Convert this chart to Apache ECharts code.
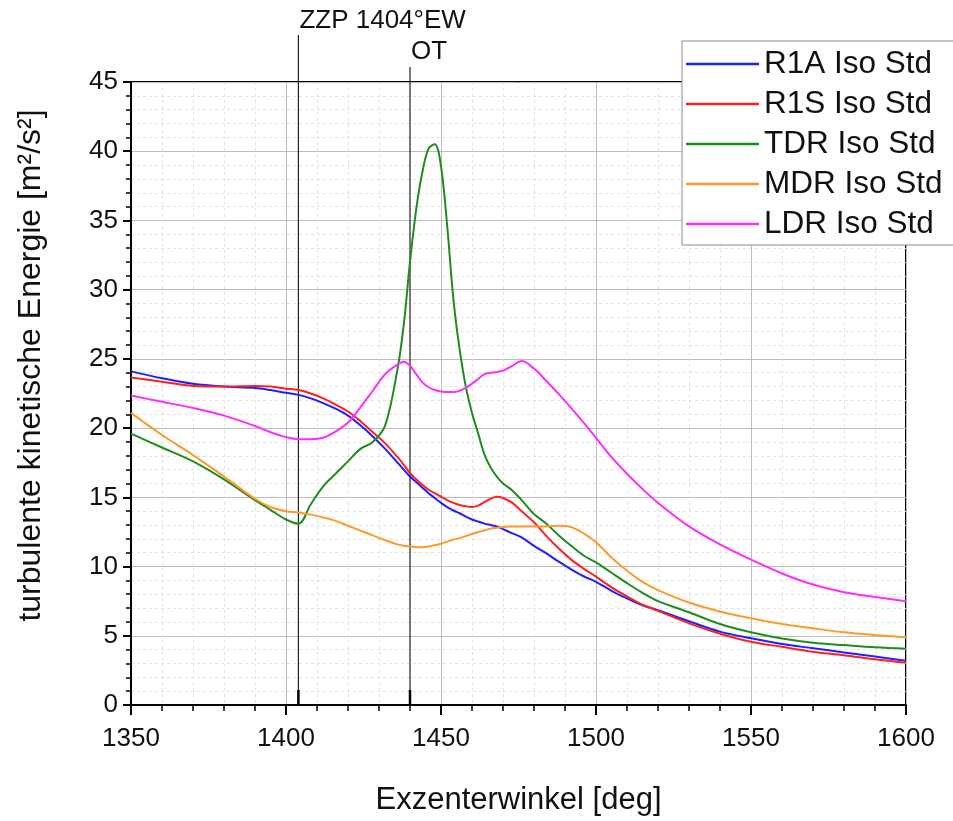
<!DOCTYPE html>
<html>
<head>
<meta charset="utf-8">
<script src="https://cdn.jsdelivr.net/npm/echarts@6/dist/echarts.min.js"></script>
<style>
html,body{margin:0;padding:0;background:#fff;}
#chart{width:953px;height:821px;}
</style>
</head>
<body>
<div id="chart"></div>
<script>
const angles = [1350,1360,1370,1380,1390,1395,1400,1404,1408,1412,1416,1420,1424,1428,1432,1436,1438,1440,1442,1444,1446,1448,1450,1452,1454,1456,1458,1460,1462,1464,1466,1468,1470,1473,1476,1480,1484,1488,1492,1496,1500,1505,1510,1515,1520,1530,1540,1550,1560,1570,1580,1590,1600];

const seriesNames = ['R1A Iso Std','R1S Iso Std','TDR Iso Std','MDR Iso Std','LDR Iso Std'];

const r1a = [24.1,23.6,23.2,23.0,22.9, 22.75,22.55,22.4,22.15,21.8, 21.4,20.9,20.2,19.4,18.5, 17.5,17.0,16.5,16.1,15.7, 15.3,14.95,14.6,14.3,14.05, 13.85,13.6,13.4,13.25,13.1, 13.0,12.9,12.7,12.4,12.1, 11.5,10.95,10.35,9.8,9.3, 8.9,8.25,7.7,7.2,6.85, 6.05,5.3,4.82,4.4,4.1, 3.8,3.5,3.2];
const r1s = [23.65,23.35,23.05,23.0,23.05, 23.0,22.85,22.75,22.5,22.15, 21.7,21.2,20.5,19.7,18.9, 17.9,17.35,16.75,16.3,15.9, 15.55,15.3,15.05,14.8,14.6, 14.45,14.35,14.3,14.4,14.65, 14.9,15.05,14.95,14.6,14.0, 13.2,12.2,11.3,10.5,9.85, 9.27,8.5,7.85,7.25,6.8, 5.9,5.15,4.57,4.2,3.85, 3.6,3.3,3.05];
const tdr = [19.6,18.6,17.6,16.3,14.8, 14.1,13.4,13.1,14.5,15.8, 16.7,17.6,18.5,19.0,20.2, 24.3,27.5,32.0,35.8,38.5, 40.2,40.5,38.9,34.6,29.3, 25.7,23.0,21.1,19.6,18.1, 17.15,16.5,16.0,15.5,14.8, 13.8,13.1,12.25,11.5,10.8, 10.3,9.55,8.8,8.1,7.5, 6.7,5.85,5.25,4.8,4.5, 4.33,4.17,4.07];
const mdr = [21.1,19.5,18.05,16.5,14.9, 14.3,14.0,13.9,13.75,13.55, 13.3,12.95,12.6,12.25,11.9, 11.6,11.5,11.45,11.4,11.4, 11.45,11.55,11.65,11.8,11.95, 12.05,12.2,12.35,12.5,12.6, 12.75,12.8,12.85,12.9,12.9, 12.9,12.9,12.95,12.85,12.4, 11.75,10.65,9.7,8.9,8.3, 7.4,6.75,6.26,5.85,5.54, 5.25,5.05,4.89];
const ldr = [22.35,21.9,21.45,20.9,20.15, 19.7,19.35,19.2,19.2,19.3, 19.75,20.4,21.5,22.7,23.9, 24.6,24.8,24.5,23.9,23.3, 22.95,22.75,22.65,22.6,22.6, 22.7,22.9,23.2,23.55,23.9, 24.0,24.05,24.15,24.5,24.85, 24.3,23.4,22.45,21.45,20.4, 19.3,17.9,16.7,15.6,14.6, 12.9,11.6,10.5,9.5,8.7, 8.15,7.8,7.5];

const markerAngles = [1404, 1440];
const markerLabels = ['ZZP 1404°EW', 'OT'];

const xTicks = {min:1350, max:1600, interval:50};
const yTicks = {min:0, max:45, interval:5};

const colors = ['#1f1fff','#ff1f1f','#1f8c1f','#ff9a2a','#ff2cff'];
const valueSets = [r1a, r1s, tdr, mdr, ldr];
const FONT = '"Liberation Sans", Arial, sans-serif';

const chart = echarts.init(document.getElementById('chart'));

const lineSeries = seriesNames.map((name, i) => ({
  name: name,
  type: 'line',
  data: angles.map((a, k) => [a, valueSets[i][k]]),
  symbol: 'none',
  smooth: 0.35,
  lineStyle: {color: colors[i], width: 2},
  itemStyle: {color: colors[i]},
  z: 5
}));

const lineTop = [47, 15];
const textOff = [61, 30];

const markerSeries = {
  type: 'custom',
  clip: false,
  silent: true,
  z: 3,
  data: markerAngles.map(a => [a, 0]),
  renderItem: function (params, api) {
    const i = params.dataIndex;
    const p0 = api.coord([api.value(0), 0]);
    const top = params.coordSys.y;
    return {
      type: 'group',
      children: [
        {type: 'line', shape: {x1: p0[0], y1: p0[1], x2: p0[0], y2: top - lineTop[i]},
         style: {stroke: '#222', lineWidth: 1.2}},
        {type: 'line', shape: {x1: p0[0], y1: p0[1], x2: p0[0], y2: p0[1] - 15},
         style: {stroke: '#000', lineWidth: 2.5}},
        {type: 'text', x: p0[0] + 1, y: top - textOff[i],
         style: {text: markerLabels[i], fill: '#111', font: '26px ' + FONT,
                 textAlign: 'left', textVerticalAlign: 'middle'}}
      ]
    };
  }
};

chart.setOption({
  animation: false,
  backgroundColor: '#fff',
  textStyle: {fontFamily: FONT},
  grid: {left: 131, right: 47, top: 82, bottom: 116, show: true,
         borderColor: '#000', borderWidth: 2, backgroundColor: 'transparent'},
  legend: {
    orient: 'vertical',
    left: 682, top: 41,
    data: seriesNames,
    selectedMode: false,
    icon: 'rect',
    itemWidth: 73, itemHeight: 2.5, itemGap: 8,
    padding: [7, 20, 5, 4],
    backgroundColor: '#fff',
    borderColor: '#8a8a8a', borderWidth: 1,
    textStyle: {fontSize: 31.5, color: '#111', lineHeight: 30, fontFamily: FONT},
    z: 10
  },
  xAxis: {
    type: 'value',
    min: xTicks.min, max: xTicks.max, interval: xTicks.interval,
    name: 'Exzenterwinkel [deg]',
    nameLocation: 'middle', nameGap: 80,
    nameTextStyle: {fontSize: 31, color: '#111', fontFamily: FONT},
    axisLine: {show: true, onZero: false, lineStyle: {color: '#000', width: 2}},
    axisTick: {show: true, inside: false, length: 10, lineStyle: {color: '#000', width: 2}},
    minorTick: {show: true, splitNumber: 5, length: 6, lineStyle: {color: '#000', width: 1.5}},
    axisLabel: {fontSize: 26, color: '#111', margin: 21, fontFamily: FONT,
                formatter: v => String(v)},
    splitLine: {show: true, lineStyle: {color: '#bdbdbd', width: 1}},
    minorSplitLine: {show: true, lineStyle: {color: '#e2e2e2', width: 1, type: [3, 3]}}
  },
  yAxis: {
    type: 'value',
    min: yTicks.min, max: yTicks.max, interval: yTicks.interval,
    name: 'turbulente kinetische Energie [m²/s²]',
    nameLocation: 'middle', nameGap: 84, nameRotate: 90,
    nameTextStyle: {fontSize: 32, color: '#111', fontFamily: FONT, padding: [0, 0, 0, 56]},
    axisLine: {show: true, onZero: false, lineStyle: {color: '#000', width: 2}},
    axisTick: {show: true, inside: false, length: 8, lineStyle: {color: '#000', width: 2}},
    minorTick: {show: true, splitNumber: 5, length: 5, lineStyle: {color: '#000', width: 1.5}},
    axisLabel: {fontSize: 26, color: '#111', margin: 13, fontFamily: FONT,
                formatter: v => String(v)},
    splitLine: {show: true, lineStyle: {color: '#bdbdbd', width: 1}},
    minorSplitLine: {show: true, lineStyle: {color: '#e2e2e2', width: 1, type: [3, 3]}}
  },
  series: [markerSeries].concat(lineSeries)
});
</script>
</body>
</html>
